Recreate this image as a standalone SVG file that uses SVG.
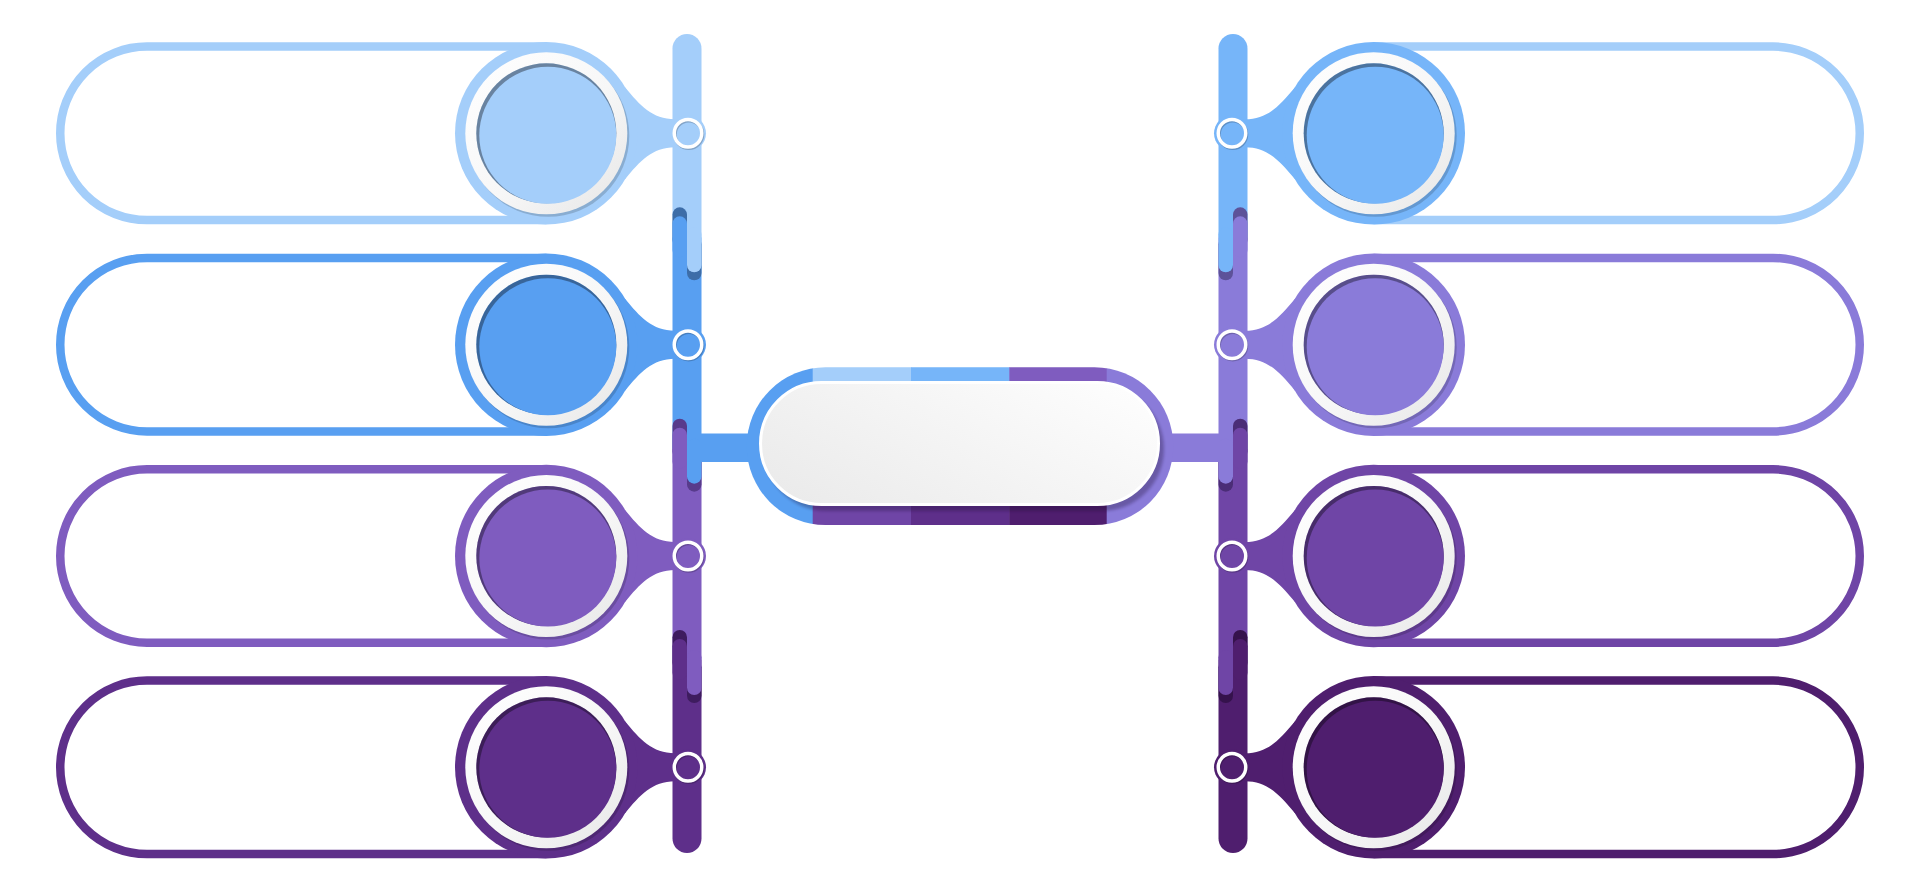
<svg xmlns="http://www.w3.org/2000/svg" width="1920" height="894" viewBox="0 0 1920 894">
<style>
.pill{fill:none;stroke-width:8.5}
.sh{fill:#000;opacity:.16}
.dim{fill:#000;opacity:.36}
.ssh{fill:none;stroke:#000;stroke-width:3.5;opacity:.2}
.wr{fill:none;stroke:#fff;stroke-width:3.5}
</style>
<defs>
<linearGradient id="ring" x1="0" y1="0" x2="1" y2="1">
<stop offset="0" stop-color="#ffffff"/><stop offset="0.55" stop-color="#f7f7f7"/><stop offset="1" stop-color="#e6e6e6"/>
</linearGradient>
<linearGradient id="pg" x1="0" y1="0.8" x2="1" y2="0.2">
<stop offset="0" stop-color="#ebebeb"/><stop offset="1" stop-color="#fdfdfd"/>
</linearGradient>
<clipPath id="cpo"><rect x="746.7" y="367.3" width="426.6" height="157.7" rx="78.85"/></clipPath>
<filter id="blur" x="-10%" y="-10%" width="120%" height="120%"><feGaussianBlur stdDeviation="1.5"/></filter>
</defs>
<rect width="1920" height="894" fill="#fff"/>

<g id="connectors">
<path fill="#a4cefa" d="M672.5,48.5A14.5,14.5 0 0 1 701.5,48.5V237.3H672.5Z"/>
<rect x="672.5" y="237.3" width="29" height="211.4" fill="#589ff1"/>
<rect x="672.5" y="448.7" width="29" height="211.3" fill="#7f5cbf"/>
<path fill="#5e2f8a" d="M672.5,660H701.5V838.5A14.5,14.5 0 0 1 672.5,838.5Z"/>
<rect x="672.5" y="207.3" width="14.5" height="40" rx="7.25" fill="#3d6da8"/>
<rect x="672.5" y="216.3" width="14.5" height="41" rx="7.25" fill="#589ff1"/>
<rect x="687" y="237.3" width="14.5" height="43" rx="7.25" fill="#3d6da8"/>
<rect x="687" y="227.3" width="14.5" height="45" rx="7.25" fill="#a4cefa"/>
<rect x="672.5" y="418.7" width="14.5" height="40" rx="7.25" fill="#583b8c"/>
<rect x="672.5" y="427.7" width="14.5" height="41" rx="7.25" fill="#7f5cbf"/>
<rect x="687" y="448.7" width="14.5" height="43" rx="7.25" fill="#583b8c"/>
<rect x="687" y="438.7" width="14.5" height="45" rx="7.25" fill="#589ff1"/>
<rect x="672.5" y="630" width="14.5" height="40" rx="7.25" fill="#3e1c5f"/>
<rect x="672.5" y="639" width="14.5" height="41" rx="7.25" fill="#5e2f8a"/>
<rect x="687" y="660" width="14.5" height="43" rx="7.25" fill="#3e1c5f"/>
<rect x="687" y="650" width="14.5" height="45" rx="7.25" fill="#7f5cbf"/>
<path fill="#76b5f9" d="M1218.5,48.5A14.5,14.5 0 0 1 1247.5,48.5V237.3H1218.5Z"/>
<rect x="1218.5" y="237.3" width="29" height="211.4" fill="#8a7bd9"/>
<rect x="1218.5" y="448.7" width="29" height="211.3" fill="#6f45a6"/>
<path fill="#4f1e6e" d="M1218.5,660H1247.5V838.5A14.5,14.5 0 0 1 1218.5,838.5Z"/>
<rect x="1233" y="207.3" width="14.5" height="40" rx="7.25" fill="#5d5299"/>
<rect x="1233" y="216.3" width="14.5" height="41" rx="7.25" fill="#8a7bd9"/>
<rect x="1218.5" y="237.3" width="14.5" height="43" rx="7.25" fill="#5d5299"/>
<rect x="1218.5" y="227.3" width="14.5" height="45" rx="7.25" fill="#76b5f9"/>
<rect x="1233" y="418.7" width="14.5" height="40" rx="7.25" fill="#4b2d77"/>
<rect x="1233" y="427.7" width="14.5" height="41" rx="7.25" fill="#6f45a6"/>
<rect x="1218.5" y="448.7" width="14.5" height="43" rx="7.25" fill="#4b2d77"/>
<rect x="1218.5" y="438.7" width="14.5" height="45" rx="7.25" fill="#8a7bd9"/>
<rect x="1233" y="630" width="14.5" height="40" rx="7.25" fill="#35124c"/>
<rect x="1233" y="639" width="14.5" height="41" rx="7.25" fill="#4f1e6e"/>
<rect x="1218.5" y="660" width="14.5" height="43" rx="7.25" fill="#35124c"/>
<rect x="1218.5" y="650" width="14.5" height="45" rx="7.25" fill="#6f45a6"/>
<rect x="700" y="433.5" width="50" height="28.5" fill="#589ff1"/>
<rect x="1170" y="433.5" width="50" height="28.5" fill="#8a7bd9"/>
</g>

<g id="center">
<g clip-path="url(#cpo)">
<rect x="740" y="360" width="73.2" height="170" fill="#589ff1"/>
<rect x="812.7" y="360" width="98.8" height="86.4" fill="#a4cefa"/>
<rect x="911" y="360" width="98.8" height="86.4" fill="#76b5f9"/>
<rect x="1009.3" y="360" width="97.9" height="86.4" fill="#7f5cbf"/>
<rect x="812.7" y="446.2" width="98.8" height="85" fill="#6f45a6"/>
<rect x="911" y="446.2" width="98.8" height="85" fill="#5e2f8a"/>
<rect x="1009.3" y="446.2" width="97.9" height="85" fill="#4f1e6e"/>
<rect x="1106.7" y="360" width="70" height="170" fill="#8a7bd9"/>
<rect x="764" y="387" width="400" height="124" rx="62" fill="#1a0a30" opacity=".3" filter="url(#blur)"/>
</g>
<rect x="760.5" y="382.5" width="398" height="122" rx="61" fill="url(#pg)" stroke="#fff" stroke-width="3"/>
</g>

<g id="node-l1" transform="translate(0,133.3)">
<path class="pill" stroke="#a4cefa" d="M546.3,-86.75H147A86.75,86.75 0 0 0 147,86.75H546.3"/>
<path fill="#a4cefa" d="M560,-60L625,-46C640,-28 652,-14 675,-14V14C652,14 640,28 625,46L560,60Z"/>
<circle cx="546.3" r="91.3" fill="#a4cefa"/>
<circle cx="548.3" cy="2.5" r="81" class="sh"/>
<circle cx="546.3" r="81" fill="url(#ring)"/>
<circle cx="546.3" r="70" fill="#a4cefa"/>
<circle cx="546.3" r="70" class="dim"/>
<circle cx="547.8" cy="2" r="68.5" fill="#a4cefa"/>
<circle cx="688" r="18" fill="#a4cefa"/>
<circle cx="688.8" cy="1.2" r="13.75" class="ssh"/>
<circle cx="688" r="13.75" class="wr"/>
</g>
<g id="node-l2" transform="translate(0,344.7)">
<path class="pill" stroke="#589ff1" d="M546.3,-86.75H147A86.75,86.75 0 0 0 147,86.75H546.3"/>
<path fill="#589ff1" d="M560,-60L625,-46C640,-28 652,-14 675,-14V14C652,14 640,28 625,46L560,60Z"/>
<circle cx="546.3" r="91.3" fill="#589ff1"/>
<circle cx="548.3" cy="2.5" r="81" class="sh"/>
<circle cx="546.3" r="81" fill="url(#ring)"/>
<circle cx="546.3" r="70" fill="#589ff1"/>
<circle cx="546.3" r="70" class="dim"/>
<circle cx="547.8" cy="2" r="68.5" fill="#589ff1"/>
<circle cx="688" r="18" fill="#589ff1"/>
<circle cx="688.8" cy="1.2" r="13.75" class="ssh"/>
<circle cx="688" r="13.75" class="wr"/>
</g>
<g id="node-l3" transform="translate(0,556)">
<path class="pill" stroke="#7f5cbf" d="M546.3,-86.75H147A86.75,86.75 0 0 0 147,86.75H546.3"/>
<path fill="#7f5cbf" d="M560,-60L625,-46C640,-28 652,-14 675,-14V14C652,14 640,28 625,46L560,60Z"/>
<circle cx="546.3" r="91.3" fill="#7f5cbf"/>
<circle cx="548.3" cy="2.5" r="81" class="sh"/>
<circle cx="546.3" r="81" fill="url(#ring)"/>
<circle cx="546.3" r="70" fill="#7f5cbf"/>
<circle cx="546.3" r="70" class="dim"/>
<circle cx="547.8" cy="2" r="68.5" fill="#7f5cbf"/>
<circle cx="688" r="18" fill="#7f5cbf"/>
<circle cx="688.8" cy="1.2" r="13.75" class="ssh"/>
<circle cx="688" r="13.75" class="wr"/>
</g>
<g id="node-l4" transform="translate(0,767.3)">
<path class="pill" stroke="#5e2f8a" d="M546.3,-86.75H147A86.75,86.75 0 0 0 147,86.75H546.3"/>
<path fill="#5e2f8a" d="M560,-60L625,-46C640,-28 652,-14 675,-14V14C652,14 640,28 625,46L560,60Z"/>
<circle cx="546.3" r="91.3" fill="#5e2f8a"/>
<circle cx="548.3" cy="2.5" r="81" class="sh"/>
<circle cx="546.3" r="81" fill="url(#ring)"/>
<circle cx="546.3" r="70" fill="#5e2f8a"/>
<circle cx="546.3" r="70" class="dim"/>
<circle cx="547.8" cy="2" r="68.5" fill="#5e2f8a"/>
<circle cx="688" r="18" fill="#5e2f8a"/>
<circle cx="688.8" cy="1.2" r="13.75" class="ssh"/>
<circle cx="688" r="13.75" class="wr"/>
</g>

<g id="node-r1" transform="translate(0,133.3)">
<path class="pill" stroke="#a4cefa" d="M1373.7,-86.75H1773A86.75,86.75 0 0 1 1773,86.75H1373.7"/>
<path fill="#76b5f9" d="M1360,-60L1295,-46C1280,-28 1268,-14 1245,-14V14C1268,14 1280,28 1295,46L1360,60Z"/>
<circle cx="1373.7" r="91.3" fill="#76b5f9"/>
<circle cx="1375.7" cy="2.5" r="81" class="sh"/>
<circle cx="1373.7" r="81" fill="url(#ring)"/>
<circle cx="1373.7" r="70" fill="#76b5f9"/>
<circle cx="1373.7" r="70" class="dim"/>
<circle cx="1375.2" cy="2" r="68.5" fill="#76b5f9"/>
<circle cx="1232" r="18" fill="#76b5f9"/>
<circle cx="1232.8" cy="1.2" r="13.75" class="ssh"/>
<circle cx="1232" r="13.75" class="wr"/>
</g>
<g id="node-r2" transform="translate(0,344.7)">
<path class="pill" stroke="#8a7bd9" d="M1373.7,-86.75H1773A86.75,86.75 0 0 1 1773,86.75H1373.7"/>
<path fill="#8a7bd9" d="M1360,-60L1295,-46C1280,-28 1268,-14 1245,-14V14C1268,14 1280,28 1295,46L1360,60Z"/>
<circle cx="1373.7" r="91.3" fill="#8a7bd9"/>
<circle cx="1375.7" cy="2.5" r="81" class="sh"/>
<circle cx="1373.7" r="81" fill="url(#ring)"/>
<circle cx="1373.7" r="70" fill="#8a7bd9"/>
<circle cx="1373.7" r="70" class="dim"/>
<circle cx="1375.2" cy="2" r="68.5" fill="#8a7bd9"/>
<circle cx="1232" r="18" fill="#8a7bd9"/>
<circle cx="1232.8" cy="1.2" r="13.75" class="ssh"/>
<circle cx="1232" r="13.75" class="wr"/>
</g>
<g id="node-r3" transform="translate(0,556)">
<path class="pill" stroke="#6f45a6" d="M1373.7,-86.75H1773A86.75,86.75 0 0 1 1773,86.75H1373.7"/>
<path fill="#6f45a6" d="M1360,-60L1295,-46C1280,-28 1268,-14 1245,-14V14C1268,14 1280,28 1295,46L1360,60Z"/>
<circle cx="1373.7" r="91.3" fill="#6f45a6"/>
<circle cx="1375.7" cy="2.5" r="81" class="sh"/>
<circle cx="1373.7" r="81" fill="url(#ring)"/>
<circle cx="1373.7" r="70" fill="#6f45a6"/>
<circle cx="1373.7" r="70" class="dim"/>
<circle cx="1375.2" cy="2" r="68.5" fill="#6f45a6"/>
<circle cx="1232" r="18" fill="#6f45a6"/>
<circle cx="1232.8" cy="1.2" r="13.75" class="ssh"/>
<circle cx="1232" r="13.75" class="wr"/>
</g>
<g id="node-r4" transform="translate(0,767.3)">
<path class="pill" stroke="#4f1e6e" d="M1373.7,-86.75H1773A86.75,86.75 0 0 1 1773,86.75H1373.7"/>
<path fill="#4f1e6e" d="M1360,-60L1295,-46C1280,-28 1268,-14 1245,-14V14C1268,14 1280,28 1295,46L1360,60Z"/>
<circle cx="1373.7" r="91.3" fill="#4f1e6e"/>
<circle cx="1375.7" cy="2.5" r="81" class="sh"/>
<circle cx="1373.7" r="81" fill="url(#ring)"/>
<circle cx="1373.7" r="70" fill="#4f1e6e"/>
<circle cx="1373.7" r="70" class="dim"/>
<circle cx="1375.2" cy="2" r="68.5" fill="#4f1e6e"/>
<circle cx="1232" r="18" fill="#4f1e6e"/>
<circle cx="1232.8" cy="1.2" r="13.75" class="ssh"/>
<circle cx="1232" r="13.75" class="wr"/>
</g>
</svg>
